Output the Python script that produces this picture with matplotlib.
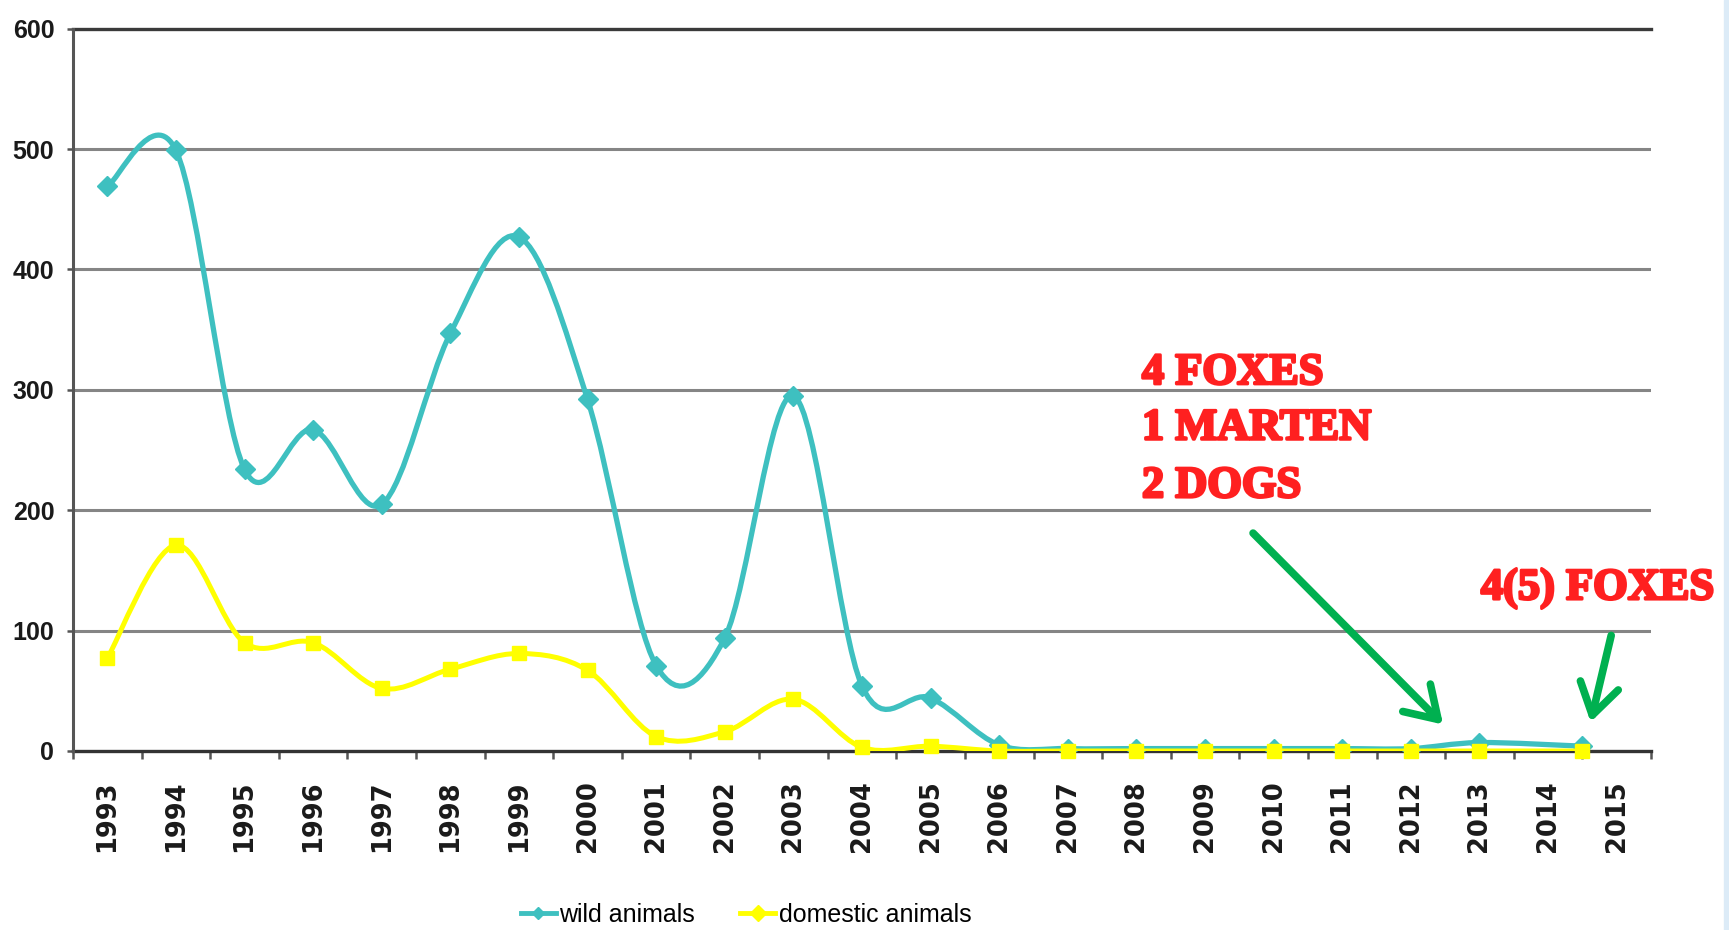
import numpy as np
import matplotlib
matplotlib.use("Agg")
import matplotlib.pyplot as plt
import matplotlib.patheffects as pe
from matplotlib.path import Path
from matplotlib.patches import PathPatch, Rectangle
from matplotlib.lines import Line2D

# --- data ---
years = list(range(1993, 2014)) + [2014.5]
wild = [469, 499, 234, 267, 205, 347, 427, 292, 71, 94, 295, 54, 44,
        5, 2, 2, 2, 2, 2, 2, 7, 4]
domestic = [77, 171, 90, 90, 52, 68, 81, 67, 12, 16, 43, 3, 4,
            0, 0, 0, 0, 0, 0, 0, 0, 0]
year_labels = [str(y) for y in range(1993, 2016)]
y_ticks = [0, 100, 200, 300, 400, 500, 600]

CYAN = "#3EC0C0"
YELLOW = "#FFFF00"
RED = "#FF2020"
GREEN = "#00B050"
NARROW = ["Liberation Sans Narrow", "Liberation Sans", "DejaVu Sans"]


def smooth_path(x, y):
    # Excel-style smoothed line: cubic bezier through every point
    pts = np.column_stack([x, y]).astype(float)
    n = len(pts)
    verts = [pts[0]]
    codes = [Path.MOVETO]
    for i in range(n - 1):
        p0 = pts[max(i - 1, 0)]
        p1 = pts[i]
        p2 = pts[i + 1]
        p3 = pts[min(i + 2, n - 1)]
        verts += [p1 + (p2 - p0) / 6, p2 - (p3 - p1) / 6, p2]
        codes += [Path.CURVE4] * 3
    return Path(verts, codes)


fig = plt.figure(figsize=(17.29, 9.30), dpi=100)
ax = fig.add_axes([73 / 1729, 1 - 751 / 930, (1651 - 73) / 1729, (751 - 28.7) / 930])

ax.set_xlim(1992.5, 2015.5)
ax.set_ylim(0, 600)

# gridlines
for v in y_ticks[1:-1]:
    ax.axhline(v, color="#858585", lw=2.2, zorder=1)
ax.axhline(600, color="#3a3a3a", lw=2.4, zorder=1, clip_on=False)

# series
ax.add_patch(PathPatch(smooth_path(years, wild), facecolor="none", edgecolor=CYAN,
                       lw=3.8, capstyle="round", joinstyle="round", zorder=3))
ax.plot(years, wild, linestyle="none", marker="D", markersize=10,
        color=CYAN, zorder=4)
ax.add_patch(PathPatch(smooth_path(years, domestic), facecolor="none", edgecolor=YELLOW,
                       lw=3.6, capstyle="round", joinstyle="round", zorder=5))
ax.plot(years, domestic, linestyle="none", marker="s", markersize=10,
        color=YELLOW, zorder=6, clip_on=False)

# axes styling
for side in ["top", "right"]:
    ax.spines[side].set_visible(False)
ax.spines["left"].set_color("#555555")
ax.spines["left"].set_linewidth(2.2)
ax.spines["bottom"].set_color("#333333")
ax.spines["bottom"].set_linewidth(2.4)
ax.spines["bottom"].set_zorder(2)

ax.set_yticks(y_ticks)
ax.set_yticklabels([str(v) for v in y_ticks], family=NARROW,
                   fontsize=18, fontweight="bold", color="#1a1a1a")
ax.tick_params(axis="y", length=4.5, width=1.8, color="#555555", pad=9)

ax.set_xticks(range(1993, 2016))
ax.set_xticklabels(year_labels, rotation=90, family="DejaVu Sans",
                   fontsize=18.5, fontweight="bold", color="#1a1a1a")
ax.tick_params(axis="x", which="major", length=0, pad=21)
ax.set_xticks(np.arange(1992.5, 2015.6, 1.0), minor=True)
ax.tick_params(axis="x", which="minor", length=6, width=1.8, color="#555555")

# annotations
ann_font = dict(family=["Liberation Serif", "DejaVu Serif"], fontweight="bold",
                fontsize=32, color=RED, ha="left", va="center", zorder=8,
                path_effects=[pe.withStroke(linewidth=2, foreground=RED)])
ax.text(2008.08, 314, "4 FOXES", **ann_font)
ax.text(2008.08, 268, "1 MARTEN", **ann_font)
ax.text(2008.08, 220, "2 DOGS", **ann_font)
ax.text(2013.02, 135, "4(5) FOXES", clip_on=False, **ann_font)

arrow = dict(arrowstyle="->,head_length=1.1,head_width=0.7", lw=5.5, color=GREEN,
             shrinkA=0, shrinkB=0, mutation_scale=20)
ax.annotate("", xy=(2012.47, 22), xytext=(2009.7, 181), arrowprops=arrow, zorder=8)
ax.annotate("", xy=(2014.62, 24), xytext=(2014.92, 96), arrowprops=arrow, zorder=8,
            annotation_clip=False)

# legend
handles = [
    Line2D([], [], color=CYAN, lw=3.5, marker="D", markersize=6),
    Line2D([], [], color=YELLOW, lw=3.5, marker="D", markersize=8),
]
fig.legend(handles, ["wild animals", "domestic animals"], loc="center",
           bbox_to_anchor=(746 / 1729, 1 - 915 / 930), ncol=2, frameon=False,
           prop=dict(family=NARROW, size=18), handlelength=1.4,
           handletextpad=0.15, columnspacing=1.8)

# thin light-blue strip at the right edge
fig.patches.append(Rectangle((1724 / 1729, 0), 5 / 1729, 1, transform=fig.transFigure,
                             color="#DCEBF7", zorder=0))

fig.savefig("out.png", dpi=100)
